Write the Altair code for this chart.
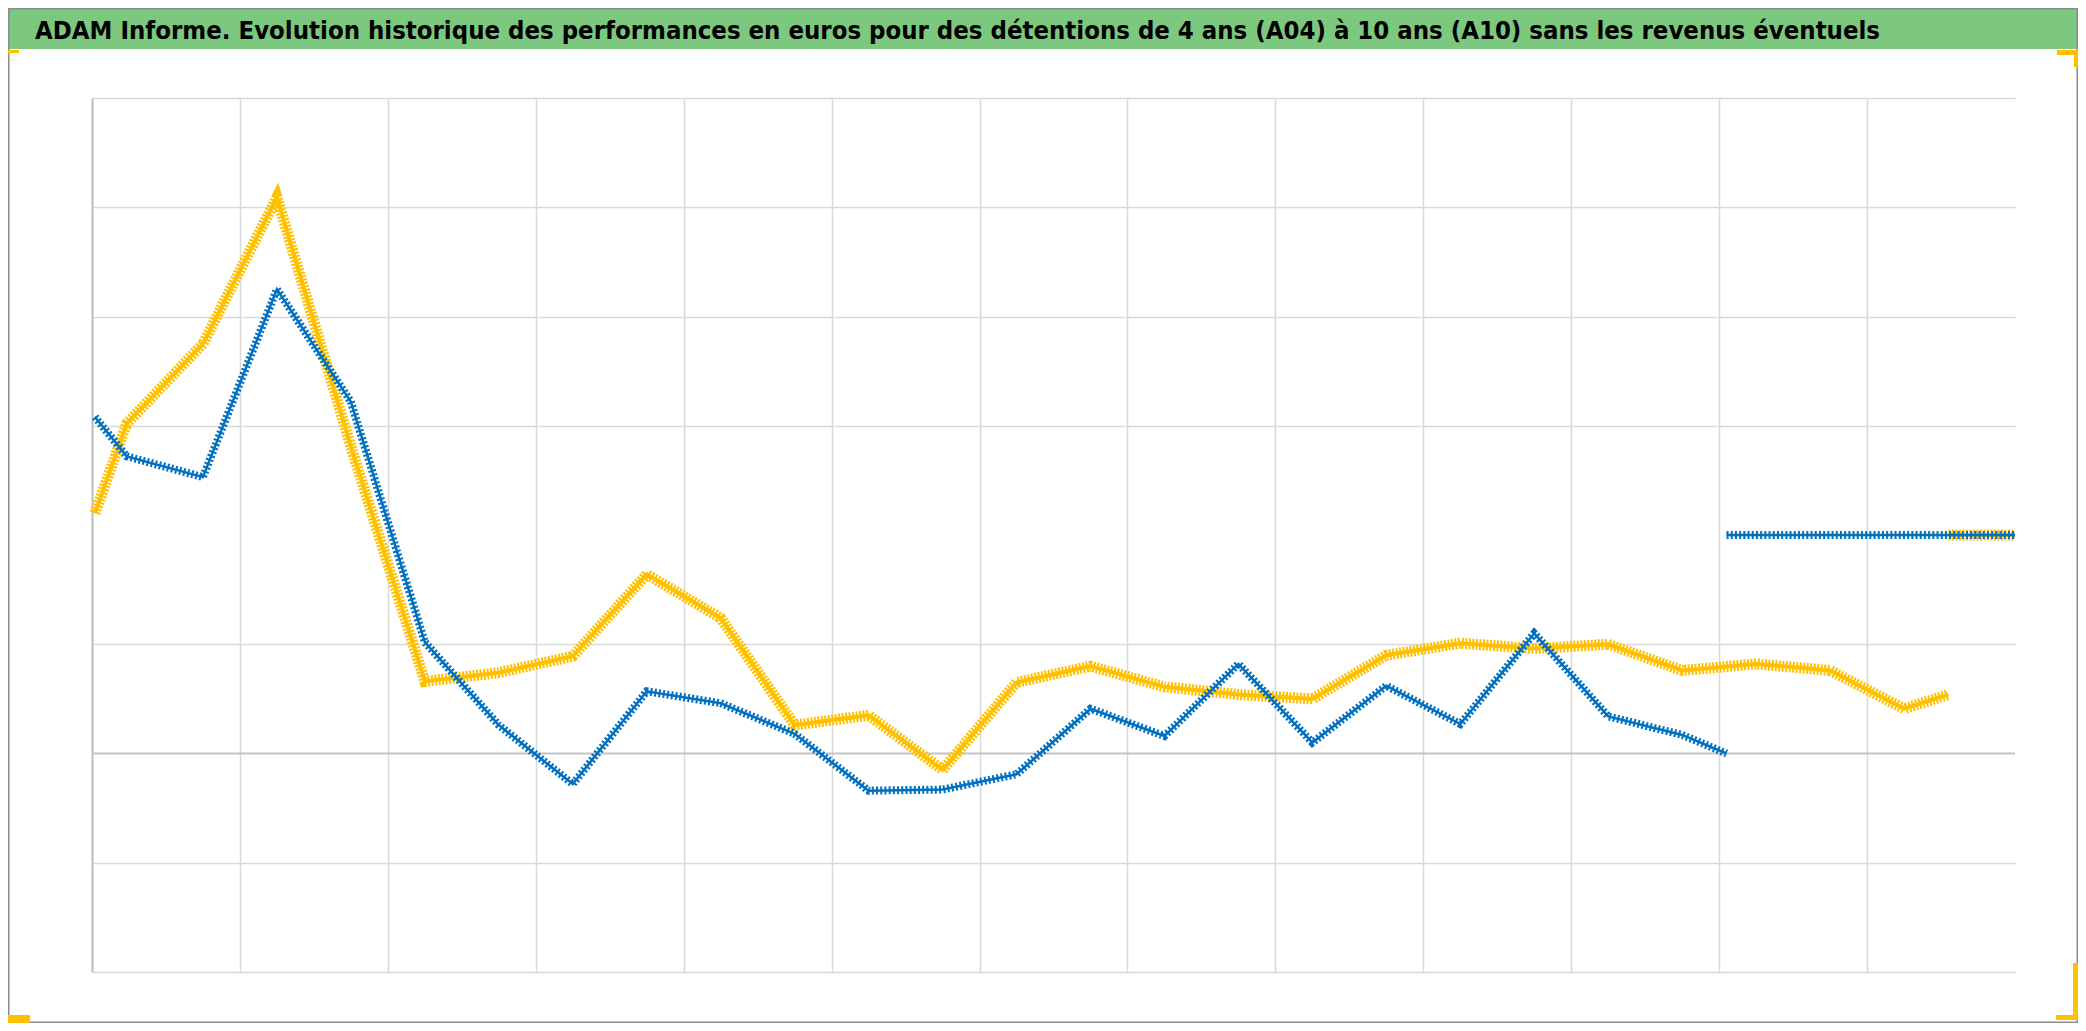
import altair as alt
import pandas as pd

TITLE = ("ADAM Informe. Evolution historique des performances en euros pour des "
         "détentions de 4 ans (A04) à 10 ans (A10) sans les revenus éventuels")

# x: years from start of the plotted period (grid every 2 years), y: performance in %
T_YELLOW = [0.04, 0.47, 1.5, 2.5, 3.5, 4.5, 5.5, 6.5, 7.5, 8.5, 9.5, 10.5, 11.5, 12.5,
            13.5, 14.5, 15.5, 16.5, 17.5, 18.5, 19.5, 20.5, 21.5, 22.5, 23.5, 24.5, 25.1]
V_YELLOW = [22.0, 30.2, 37.5, 50.9, 28.1, 6.6, 7.4, 8.9, 16.4, 12.4, 2.6, 3.5, -1.5, 6.5,
            8.0, 6.1, 5.4, 5.0, 9.0, 10.1, 9.6, 10.0, 7.6, 8.2, 7.6, 4.1, 5.4]
T_BLUE = [0.04, 0.47, 1.5, 2.5, 3.5, 4.5, 5.5, 6.5, 7.5, 8.5, 9.5, 10.5, 11.5, 12.5,
          13.5, 14.5, 15.5, 16.5, 17.5, 18.5, 19.5, 20.5, 21.5, 22.1]
V_BLUE = [30.8, 27.2, 25.3, 42.5, 32.2, 10.2, 2.6, -2.8, 5.7, 4.6, 1.8, -3.4, -3.3, -1.9,
          4.1, 1.6, 8.2, 1.0, 6.2, 2.7, 11.0, 3.4, 1.7, 0.0]
T_BLUE_TAIL = [22.1, 26.0]
V_BLUE_TAIL = [20.0, 20.0]
T_YELLOW_TAIL = [25.1, 26.0]
V_YELLOW_TAIL = [20.0, 20.0]
ZERO_T = [0.0, 26.0]
ZERO_V = [0.0, 0.0]

X_DOMAIN = [0, 26]
Y_DOMAIN = [-20, 60]
X_GRID = [0, 2, 4, 6, 8, 10, 12, 14, 16, 18, 20, 22, 24]
Y_GRID = [-20, -10, 10, 30, 40, 50, 60]

YELLOW = "#FFC000"
BLUE = "#0070C0"
GREEN = "#7CC87E"


def frame(ts, vs, seg):
    return pd.DataFrame({"t": ts, "v": vs, "seg": seg})


yellow_df = pd.concat([frame(T_YELLOW, V_YELLOW, "main"), frame(T_YELLOW_TAIL, V_YELLOW_TAIL, "tail")])
blue_df = pd.concat([frame(T_BLUE, V_BLUE, "main"), frame(T_BLUE_TAIL, V_BLUE_TAIL, "tail")])
zero_df = frame(ZERO_T, ZERO_V, "zero")
one = pd.DataFrame({"a": [0]})

x_enc = alt.X("t:Q", scale=alt.Scale(domain=X_DOMAIN, nice=False, zero=False),
              axis=alt.Axis(values=X_GRID, grid=True, labels=False, ticks=False, domain=False,
                            title=None, gridColor="#D9D9D9", gridWidth=1.5))
y_enc = alt.Y("v:Q", scale=alt.Scale(domain=Y_DOMAIN, nice=False, zero=False),
              axis=alt.Axis(values=Y_GRID, grid=True, labels=False, ticks=False, domain=True,
                            domainColor="#BFBFBF", domainWidth=2, title=None,
                            gridColor="#D9D9D9", gridWidth=1.5))

zero_line = alt.Chart(zero_df).mark_line(color="#C4C4C4", strokeWidth=2).encode(x=x_enc, y=y_enc)


def band(df, color, solid_w, dash_w, dash):
    base = alt.Chart(df).encode(x=x_enc, y=y_enc, detail="seg:N")
    return (base.mark_line(color=color, strokeWidth=solid_w)
            + base.mark_line(color=color, strokeWidth=dash_w, strokeDash=dash))


yellow_band = band(yellow_df, YELLOW, 4, 11, [2, 1.5])
blue_band = band(blue_df, BLUE, 2.5, 8, [2, 2.2])


def box(x1, x2, y1, y2, **kw):
    return alt.Chart(one).mark_rect(**kw).encode(
        x=alt.value(x1), x2=alt.value(x2), y=alt.value(y1), y2=alt.value(y2))


frame_box = box(-83.25, 1985.25, -89.25, 924.25, fill=None, stroke="#8C8C8C", strokeWidth=1.5)
green_bar = box(-83, 1985, -89, -49, color=GREEN)
corners = [
    box(-84, -73, -48, -45, color=YELLOW),
    box(1965, 1986, -48, -43, color=YELLOW),
    box(1982, 1986, -48, -31, color=YELLOW),
    box(-84, -62, 917, 925, color=YELLOW),
    box(1981, 1986, 865, 920, color=YELLOW),
    box(1964, 1986, 917, 922, color=YELLOW),
]

title = alt.Chart(one).mark_text(
    text=TITLE, align="left", baseline="alphabetic",
    font="DejaVu Sans Condensed, DejaVu Sans, sans-serif",
    fontWeight="bold", fontSize=25.5, color="#000000"
).encode(x=alt.value(-57), y=alt.value(-59))

chart = alt.layer(
    green_bar, zero_line, yellow_band, blue_band, title, frame_box, *corners
).properties(
    width=1923, height=874,
    autosize=alt.AutoSizeParams(type="none"),
    padding={"left": 84, "top": 90, "right": 63, "bottom": 51},
    background="white",
).configure_view(stroke=None)

chart.save("out.html", embed_options={"renderer": "svg", "actions": False})
